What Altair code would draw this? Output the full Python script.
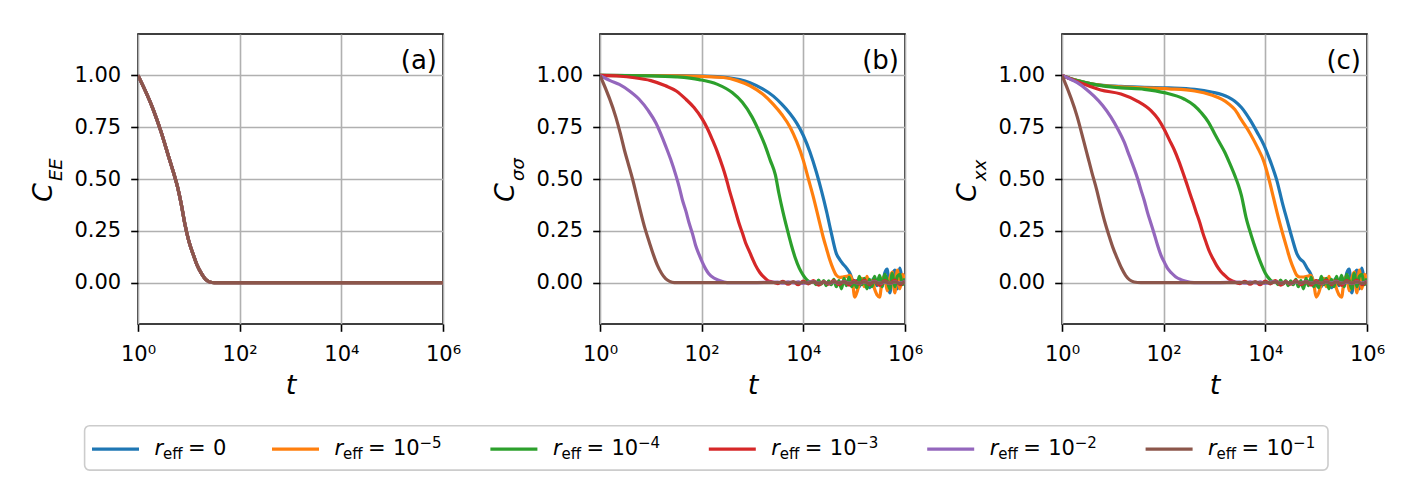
import altair as alt
import pandas as pd

# ---------------- series meta ----------------
SERIES = ["s0", "s1", "s2", "s3", "s4", "s5"]
COLORS = ["#1f77b4", "#ff7f0e", "#2ca02c", "#d62728", "#9467bd", "#8c564b"]
LEG_NUM = ["0", "10", "10", "10", "10", "10"]
LEG_SUP = ["", "\u22125", "\u22124", "\u22123", "\u22122", "\u22121"]

X_TICKS = [1, 100, 10000, 1000000]
X_TICK_LABELS = ["10\u2070", "10\u00b2", "10\u2074", "10\u2076"]
Y_TICKS = [0.0, 0.25, 0.5, 0.75, 1.0]
PANEL_TAGS = ["(a)", "(b)", "(c)"]
Y_MAIN = "C"
Y_SUBS = ["EE", "\u03c3\u03c3", "xx"]

# ---------------- panel (a): log10(t), value ----------------
A_LOGT = [0, 0.30, 0.45, 0.60, 0.70, 0.78, 0.85, 0.92, 1.0, 1.08, 1.16, 1.25, 1.33, 1.41, 1.5, 1.6, 6.0]
A_VAL = [1.0, 0.835, 0.73, 0.61, 0.53, 0.46, 0.38, 0.285, 0.20, 0.14, 0.085, 0.043, 0.015, 0.003, 0.0, 0.0, 0.0]

# ---------------- panel (b) ----------------
B_BLUE_T = [0, 1.5, 2.0, 2.5, 2.95, 3.2, 3.41, 3.58, 3.74, 3.87, 4.0, 4.13, 4.26, 4.36, 4.46, 4.55, 4.65, 4.72, 4.78, 4.85, 4.92, 4.97, 5.01]
B_BLUE_V = [1.0, 0.999, 0.997, 0.99, 0.965, 0.935, 0.90, 0.86, 0.815, 0.77, 0.71, 0.63, 0.53, 0.44, 0.34, 0.24, 0.14, 0.11, 0.09, 0.07, 0.043, 0.01, -0.013]
B_ORANGE_T = [0, 1.5, 2.0, 2.43, 2.7, 2.95, 3.2, 3.41, 3.58, 3.74, 3.87, 4.0, 4.1, 4.2, 4.3, 4.39, 4.46, 4.52, 4.58, 4.65, 4.72, 4.78, 4.85, 4.92, 4.97, 5.01, 5.05, 5.11]
B_ORANGE_V = [1.0, 0.998, 0.995, 0.99, 0.975, 0.95, 0.91, 0.86, 0.81, 0.75, 0.68, 0.59, 0.50, 0.41, 0.31, 0.22, 0.16, 0.11, 0.07, 0.035, 0.025, 0.027, 0.03, 0.035, 0.0, -0.07, -0.05, 0.0]
B_GREEN_T = [0, 1.0, 1.5, 1.95, 2.3, 2.6, 2.8, 2.99, 3.12, 3.25, 3.35, 3.45, 3.52, 3.60, 3.68, 3.76, 3.84, 3.92, 4.0, 4.07, 4.14]
B_GREEN_V = [1.0, 0.998, 0.993, 0.98, 0.958, 0.917, 0.87, 0.80, 0.735, 0.66, 0.59, 0.52, 0.43, 0.34, 0.26, 0.185, 0.12, 0.07, 0.035, 0.013, 0.003]
B_RED_T = [0, 0.4, 0.64, 1.0, 1.29, 1.5, 1.69, 1.85, 2.01, 2.11, 2.21, 2.31, 2.41, 2.48, 2.54, 2.60, 2.67, 2.73, 2.80, 2.86, 2.93, 3.0, 3.06, 3.14, 3.22, 3.3, 3.39]
B_RED_V = [1.0, 0.996, 0.99, 0.975, 0.95, 0.925, 0.885, 0.845, 0.79, 0.745, 0.69, 0.63, 0.56, 0.505, 0.45, 0.40, 0.34, 0.29, 0.24, 0.195, 0.155, 0.115, 0.083, 0.05, 0.027, 0.01, 0.003]
B_PURPLE_T = [0, 0.20, 0.38, 0.58, 0.77, 0.95, 1.10, 1.20, 1.29, 1.39, 1.49, 1.56, 1.62, 1.69, 1.75, 1.82, 1.88, 1.95, 2.01, 2.08, 2.14, 2.24, 2.34, 2.5, 3.0]
B_PURPLE_V = [1.0, 0.975, 0.957, 0.925, 0.885, 0.83, 0.77, 0.715, 0.66, 0.595, 0.52, 0.46, 0.40, 0.345, 0.29, 0.235, 0.18, 0.135, 0.10, 0.065, 0.043, 0.022, 0.011, 0.0, 0.0]
B_BROWN_T = [0, 0.31, 0.40, 0.48, 0.56, 0.64, 0.72, 0.80, 0.88, 0.97, 1.05, 1.13, 1.21, 1.29, 1.37, 1.46, 3.0]
B_BROWN_V = [1.0, 0.80, 0.72, 0.64, 0.57, 0.50, 0.42, 0.34, 0.265, 0.195, 0.135, 0.083, 0.045, 0.019, 0.006, 0.0, 0.0]

# ---------------- panel (c) ----------------
C_BLUE_T = [0, 0.30, 0.63, 1.16, 1.62, 2.1, 2.61, 2.94, 3.27, 3.40, 3.53, 3.70, 3.84, 3.97, 4.10, 4.23, 4.33, 4.43, 4.52, 4.62, 4.68, 4.75, 4.82, 4.89, 4.94, 4.98, 5.02]
C_BLUE_V = [1.0, 0.975, 0.957, 0.947, 0.943, 0.94, 0.933, 0.92, 0.895, 0.875, 0.845, 0.785, 0.725, 0.665, 0.585, 0.49, 0.39, 0.30, 0.22, 0.14, 0.115, 0.10, 0.07, 0.043, 0.01, -0.02, -0.01]
C_ORANGE_T = [0, 0.30, 0.63, 1.16, 1.62, 2.1, 2.61, 2.94, 3.27, 3.40, 3.53, 3.70, 3.84, 3.97, 4.07, 4.16, 4.26, 4.36, 4.43, 4.49, 4.56, 4.62, 4.68, 4.75, 4.82, 4.89, 4.95, 5.0, 5.05, 5.11]
C_ORANGE_V = [1.0, 0.975, 0.957, 0.945, 0.94, 0.935, 0.925, 0.905, 0.865, 0.835, 0.785, 0.72, 0.655, 0.585, 0.50, 0.41, 0.31, 0.22, 0.16, 0.11, 0.065, 0.035, 0.027, 0.027, 0.03, 0.035, 0.0, -0.07, -0.05, 0.0]
C_GREEN_T = [0, 0.30, 0.63, 1.16, 1.62, 2.01, 2.41, 2.60, 2.74, 2.88, 3.0, 3.10, 3.20, 3.30, 3.40, 3.47, 3.53, 3.62, 3.72, 3.82, 3.91, 4.0, 4.07, 4.14]
C_GREEN_V = [1.0, 0.975, 0.957, 0.94, 0.933, 0.917, 0.885, 0.855, 0.82, 0.775, 0.72, 0.675, 0.63, 0.575, 0.516, 0.47, 0.42, 0.315, 0.23, 0.155, 0.095, 0.045, 0.02, 0.006]
C_RED_T = [0, 0.36, 0.76, 1.16, 1.49, 1.75, 1.89, 2.01, 2.11, 2.21, 2.30, 2.38, 2.45, 2.51, 2.58, 2.64, 2.71, 2.77, 2.84, 2.90, 2.97, 3.04, 3.12, 3.20, 3.28, 3.37]
C_RED_V = [1.0, 0.965, 0.93, 0.91, 0.875, 0.83, 0.79, 0.74, 0.69, 0.64, 0.585, 0.53, 0.48, 0.435, 0.385, 0.34, 0.29, 0.24, 0.19, 0.15, 0.115, 0.083, 0.055, 0.035, 0.017, 0.006]
C_PURPLE_T = [0, 0.30, 0.47, 0.63, 0.80, 0.96, 1.10, 1.22, 1.32, 1.42, 1.49, 1.55, 1.62, 1.68, 1.75, 1.82, 1.88, 1.95, 2.02, 2.08, 2.16, 2.24, 2.34, 2.44, 2.6, 3.0]
C_PURPLE_V = [1.0, 0.965, 0.935, 0.90, 0.855, 0.80, 0.74, 0.68, 0.615, 0.55, 0.50, 0.45, 0.395, 0.34, 0.285, 0.23, 0.18, 0.13, 0.095, 0.067, 0.045, 0.027, 0.014, 0.006, 0.0, 0.0]
C_BROWN_T = [0, 0.30, 0.43, 0.51, 0.59, 0.68, 0.76, 0.84, 0.92, 1.0, 1.09, 1.17, 1.25, 1.33, 1.42, 1.55, 3.0]
C_BROWN_V = [1.0, 0.80, 0.68, 0.605, 0.53, 0.45, 0.37, 0.295, 0.23, 0.17, 0.115, 0.07, 0.035, 0.013, 0.003, 0.0, 0.0]

# ---------------- noisy tails (shared by b and c) ----------------
NOISE_T1 = [3.5, 3.6, 3.7, 3.8, 3.9, 4.0, 4.1, 4.2, 4.3, 4.4, 4.5, 4.6, 4.7, 4.8, 4.9, 5.0, 5.1, 5.2, 5.3, 5.4, 5.5, 5.6, 5.7, 5.8, 5.9, 6.0]
NOISE_T2 = [4.2, 4.25, 4.3, 4.35, 4.4, 4.45, 4.5, 4.55, 4.6, 4.65, 4.7, 4.75, 4.8, 4.85, 4.9, 4.95, 5.0, 5.05, 5.1, 5.15, 5.2, 5.25, 5.3, 5.35, 5.4, 5.45, 5.5, 5.55, 5.6, 5.65, 5.7, 5.75, 5.8, 5.85, 5.9, 5.95, 6.0]
NOISE_T3 = [5.05, 5.1, 5.15, 5.2, 5.25, 5.3, 5.35, 5.4, 5.45, 5.5, 5.55, 5.6, 5.65, 5.7, 5.75, 5.8, 5.85, 5.9, 5.95, 6.0]
BLUE_TAIL = [0.01, -0.02, 0.015, -0.01, 0.02, -0.025, 0.01, 0.02, -0.015, 0.03, -0.02, 0.045, 0.065, -0.05, 0.03, 0.06, -0.03, 0.07, 0.01, 0.04]
ORANGE_TAIL = [0.02, -0.02, 0.03, -0.01, 0.01, -0.03, -0.06, -0.07, 0.01, 0.03, -0.04, 0.02, 0.05, -0.05, 0.06, -0.03, 0.04, 0.02]
GREEN_TAIL = [0.005, -0.01, 0.012, -0.008, 0.01, -0.015, 0.008, -0.01, 0.015, -0.02, 0.01, -0.03, 0.02, -0.015, 0.025, -0.02, 0.01, -0.025, 0.03, -0.01, 0.02, -0.03, 0.015, -0.02, 0.03, -0.01, 0.035, -0.02, 0.04, 0.01, -0.03, 0.045, -0.02, 0.03, 0.04, -0.01, 0.02]
RED_TAIL = [-0.005, 0.006, -0.008, 0.004, -0.01, 0.007, -0.006, 0.01, -0.012, 0.005, -0.008, 0.01, -0.01, 0.006, -0.012, 0.01, -0.008, 0.012, -0.01, 0.008, -0.014, 0.01, -0.006, 0.012, -0.01, 0.008]
PURPLE_TAIL = [0.002, -0.003, 0.004, -0.002, 0.003, -0.004, 0.002, 0.004, -0.003, 0.002, -0.004, 0.003, -0.002, 0.004, -0.003, 0.002, -0.004, 0.003, -0.002, 0.005, -0.003, 0.002, -0.004, 0.003, -0.002, 0.004]
BROWN_TAIL = [0.0, 0.002, -0.002, 0.003, -0.003, 0.002, -0.002, 0.003, -0.004, 0.002, -0.003, 0.004, -0.002, 0.003, -0.004, 0.002, -0.003, 0.004, -0.005, 0.003, -0.004, 0.005, -0.003, 0.004, -0.005, 0.003]

FONT = "DejaVu Sans"
PW, PH = 305, 290
LEG_TOP = 391.7  # legend box top, relative to the first panel's plot area


def series_df(logt, vals, key):
    return pd.DataFrame({"t": [10 ** v for v in logt], "c": vals, "s": key})


A_CURVES = [(A_LOGT, A_VAL)] * 6
B_CURVES = [
    (B_BLUE_T + NOISE_T3, B_BLUE_V + BLUE_TAIL),
    (B_ORANGE_T + NOISE_T3[2:], B_ORANGE_V + ORANGE_TAIL),
    (B_GREEN_T + NOISE_T2, B_GREEN_V + GREEN_TAIL),
    (B_RED_T + NOISE_T1, B_RED_V + RED_TAIL),
    (B_PURPLE_T + NOISE_T1, B_PURPLE_V + PURPLE_TAIL),
    (B_BROWN_T + NOISE_T1, B_BROWN_V + BROWN_TAIL),
]
C_CURVES = [
    (C_BLUE_T + NOISE_T3, C_BLUE_V + BLUE_TAIL),
    (C_ORANGE_T + NOISE_T3[2:], C_ORANGE_V + ORANGE_TAIL),
    (C_GREEN_T + NOISE_T2, C_GREEN_V + GREEN_TAIL),
    (C_RED_T + NOISE_T1, C_RED_V + RED_TAIL),
    (C_PURPLE_T + NOISE_T1, C_PURPLE_V + PURPLE_TAIL),
    (C_BROWN_T + NOISE_T1, C_BROWN_V + BROWN_TAIL),
]

x_label_expr = " : ".join(
    f"datum.value == {v} ? '{l}'" for v, l in zip(X_TICKS, X_TICK_LABELS)
) + " : ''"

# ---------------- custom legend (drawn under panel a) ----------------
s_pos = []
cur = -46.0
for sup in LEG_SUP:
    s_pos.append(cur)
    cur += 180.0 if sup == "" else 218.4

leg_df = pd.DataFrame({
    "s": s_pos,
    "s_end": [p + 47 for p in s_pos],
    "col": COLORS,
    "num": LEG_NUM,
    "sup": LEG_SUP,
    "r": ["r"] * 6,
    "eff": ["eff"] * 6,
    "eq": ["="] * 6,
})

leg_box = alt.Chart(pd.DataFrame({"b": [0]})).mark_rect(
    fill="white", stroke="#cccccc", strokeWidth=1.6, cornerRadius=5
).encode(x=alt.value(-53.4), x2=alt.value(1190), y=alt.value(LEG_TOP), y2=alt.value(LEG_TOP + 44.4))

leg_sym = alt.Chart(leg_df).mark_rule(strokeWidth=3.2).encode(
    x=alt.X("s:Q", scale=None, axis=None), x2="s_end:Q", y=alt.value(LEG_TOP + 23.4),
    color=alt.Color("col:N", scale=None, legend=None),
)


def leg_text(field, dx, y, size, style="normal"):
    return alt.Chart(leg_df).mark_text(
        align="left", baseline="alphabetic", dx=dx, fontSize=size, fontStyle=style,
        font=FONT, color="black"
    ).encode(x=alt.X("s:Q", scale=None, axis=None), y=alt.value(LEG_TOP + y), text=f"{field}:N")


LEGEND_LAYERS = [
    leg_box, leg_sym,
    leg_text("r", 62.5, 29.4, 21, "italic"),
    leg_text("eff", 71.0, 33.4, 15),
    leg_text("eq", 96.0, 29.4, 21),
    leg_text("num", 121.0, 29.4, 21),
    leg_text("sup", 147.5, 22.0, 15),
]


def make_panel(idx, curves, extra=()):
    df = pd.concat([series_df(t, v, k) for k, (t, v) in zip(SERIES, curves)], ignore_index=True)
    lines = alt.Chart(df).mark_line(strokeWidth=3.2, clip=True, interpolate="monotone").encode(
        x=alt.X("t:Q", scale=alt.Scale(type="log", domain=[1, 1e6], nice=False),
                axis=alt.Axis(values=X_TICKS, labelExpr=x_label_expr, title="t",
                              labelFlush=False, labelOverlap=False)),
        y=alt.Y("c:Q", scale=alt.Scale(domain=[-0.2, 1.2], nice=False, zero=False),
                axis=alt.Axis(values=Y_TICKS, format=".2f", title=None,
                              labelFlush=False, labelOverlap=False)),
        color=alt.Color("s:N", scale=alt.Scale(domain=SERIES, range=COLORS), legend=None),
    )
    tag = alt.Chart(pd.DataFrame({"tag": [PANEL_TAGS[idx]]})).mark_text(
        align="right", baseline="alphabetic", fontSize=26, font=FONT, color="black"
    ).encode(text="tag:N", x=alt.value(299), y=alt.value(34.7))
    lab = alt.Chart(pd.DataFrame({"main": [Y_MAIN], "sub": [Y_SUBS[idx]]}))
    cmain = lab.mark_text(angle=270, align="center", baseline="alphabetic", fontSize=27,
                          fontStyle="italic", font=FONT, color="black").encode(
        text="main:N", x=alt.value(-86), y=alt.value(158.5))
    csub = lab.mark_text(angle=270, align="left", baseline="alphabetic", fontSize=18,
                         fontStyle="italic", font=FONT, color="black").encode(
        text="sub:N", x=alt.value(-76.5), y=alt.value(147))
    layer = alt.layer(lines, tag, cmain, csub, *extra).properties(width=PW, height=PH)
    if extra:
        layer = layer.resolve_scale(x="independent", color="independent")
    return layer


panels = [
    make_panel(0, A_CURVES, LEGEND_LAYERS),
    make_panel(1, B_CURVES),
    make_panel(2, C_CURVES),
]

chart = alt.hconcat(
    *panels, spacing=157, bounds="flush"
).properties(
    padding={"left": 21, "top": 25, "right": 10, "bottom": 10}
).configure(font=FONT).configure_view(
    stroke="black", strokeWidth=1.6
).configure_axis(
    labelFont=FONT, labelFontSize=21, labelColor="black",
    tickColor="black", tickWidth=1.6, tickSize=7.3, domain=False,
    gridColor="#b0b0b0", gridWidth=1.6,
    titleFont=FONT, titleFontSize=27, titleFontStyle="italic",
    titleFontWeight="normal", titleColor="black",
).configure_axisX(labelPadding=12, titlePadding=8).configure_axisY(labelPadding=10)

chart.save("out.html", embed_options={"renderer": "svg", "actions": False})
